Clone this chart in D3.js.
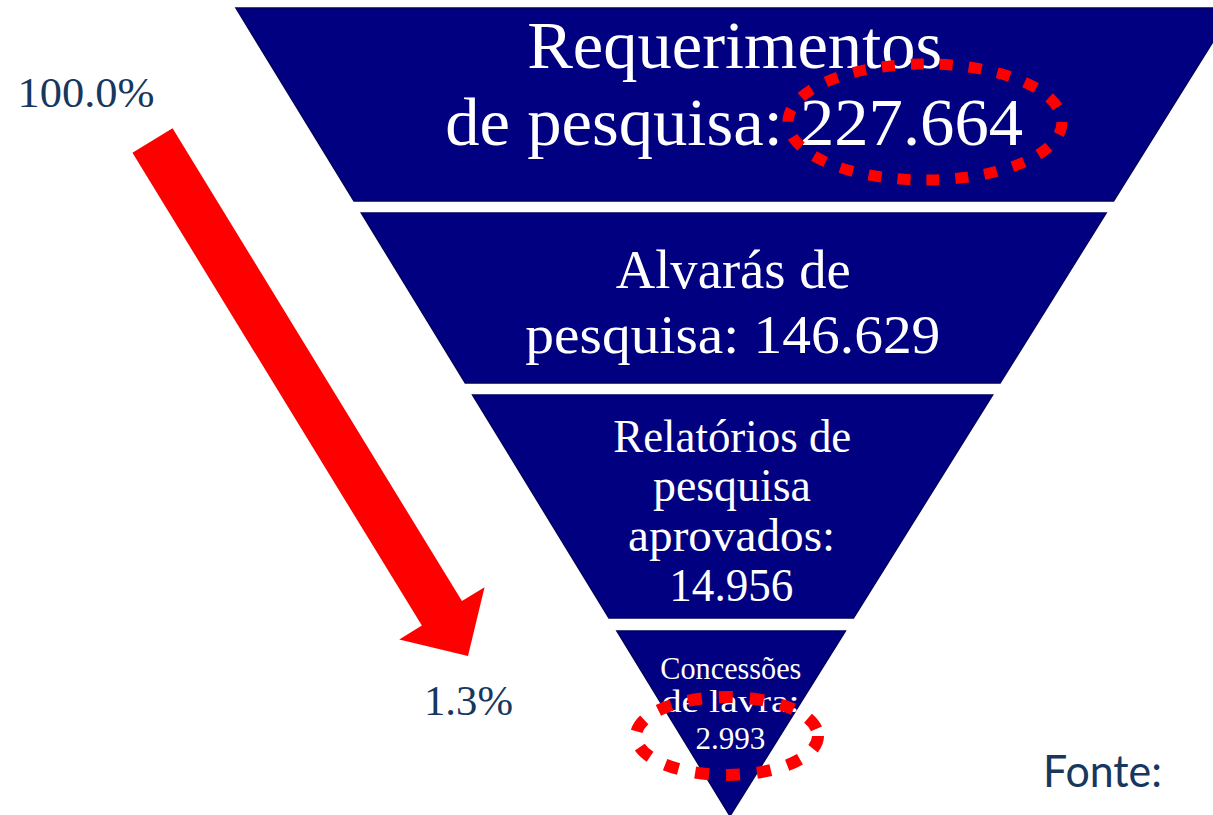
<!DOCTYPE html>
<html>
<head>
<meta charset="utf-8">
<script src="https://cdn.jsdelivr.net/npm/d3@7"></script>
<style>
  html, body { margin: 0; padding: 0; background: #fff; }
  svg { display: block; }
</style>
</head>
<body>
<svg id="chart"></svg>
<script>
// data
const stages = ["Requerimentos\nde pesquisa:", "Alvarás de\npesquisa:", "Relatórios de\npesquisa\naprovados:", "Concessões\nde lavra:"];
const counts = [227664, 146629, 14956, 2993];
const sourceLabel = "Fonte:";

const width = 1213;
const height = 815;

const svg = d3.select("#chart").attr("width", width).attr("height", height);

const fmtCount = d3.formatLocale({ decimal: ",", thousands: ".", grouping: [3], currency: ["", ""] }).format(",d");
const fmtPct = d3.format(".1%");

// funnel shape: one triangle cut in slices
const topY = 8, apexY = 816;
const halfW = d3.scaleLinear().domain([apexY, topY]).range([0, 499]);
const centerX = d3.scaleLinear().domain([topY, apexY]).range([735, 730]);

// slice layout (y range, font, lines)
const layout = [
  { y0: 8,   y1: 201, size: 68, inline: true,  base: [68, 145],           widths: [415, 578] },
  { y0: 213, y1: 383, size: 55, inline: true,  base: [288, 353],          widths: [235, 415] },
  { y0: 395, y1: 618, size: 46, inline: false, base: [452, 501, 551, 601], widths: [238, 158, 207, 124] },
  { y0: 631, y1: apexY, size: 31, inline: false, base: [679, 712, 749],   widths: [141, 138, 70] }
];

const funnel = svg.append("g");

layout.forEach((s, i) => {
  const cx0 = centerX(s.y0), cx1 = centerX(s.y1);
  const pts = [
    [cx0 - halfW(s.y0), s.y0],
    [cx0 + halfW(s.y0), s.y0],
    [cx1 + halfW(s.y1), s.y1],
    [cx1 - halfW(s.y1), s.y1]
  ];
  funnel.append("path")
    .attr("d", d3.line()(pts) + "Z")
    .attr("fill", "#000080")
    .attr("stroke", "#00005e")
    .attr("stroke-width", 1.5);

  let lines = stages[i].split("\n");
  const v = fmtCount(counts[i]);
  if (s.inline) lines[lines.length - 1] += " " + v;
  else lines.push(v);

  lines.forEach((ln, j) => {
    funnel.append("text")
      .attr("x", centerX(s.base[j]))
      .attr("y", s.base[j])
      .attr("text-anchor", "middle")
      .attr("fill", "#fff")
      .attr("font-family", "'Liberation Serif', 'DejaVu Serif', serif")
      .attr("font-size", s.size)
      .attr("textLength", s.widths[j])
      .attr("lengthAdjust", "spacingAndGlyphs")
      .text(ln);
  });
});

// red dotted ellipses round the first and the last count
const rings = [
  { cx: 925, cy: 122, rx: 137, ry: 58, w: 11, dash: "13,16" },
  { cx: 727, cy: 736, rx: 91, ry: 39, w: 12, dash: "14,17" }
];
svg.append("g").selectAll("ellipse")
  .data(rings)
  .join("ellipse")
  .attr("cx", d => d.cx)
  .attr("cy", d => d.cy)
  .attr("rx", d => d.rx)
  .attr("ry", d => d.ry)
  .attr("fill", "none")
  .attr("stroke", "#ff0000")
  .attr("stroke-width", d => d.w)
  .attr("stroke-dasharray", d => d.dash);

// red block arrow
function arrowPath(start, tip, shaftW, headW, headL) {
  const dx = tip[0] - start[0], dy = tip[1] - start[1];
  const len = Math.hypot(dx, dy);
  const ux = dx / len, uy = dy / len;
  const px = -uy, py = ux;
  const bx = tip[0] - ux * headL, by = tip[1] - uy * headL;
  const pts = [
    [start[0] + px * shaftW / 2, start[1] + py * shaftW / 2],
    [bx + px * shaftW / 2, by + py * shaftW / 2],
    [bx + px * headW / 2, by + py * headW / 2],
    tip,
    [bx - px * headW / 2, by - py * headW / 2],
    [bx - px * shaftW / 2, by - py * shaftW / 2],
    [start[0] - px * shaftW / 2, start[1] - py * shaftW / 2]
  ];
  return d3.line()(pts) + "Z";
}
svg.append("path")
  .attr("d", arrowPath([152.5, 140.5], [468, 656], 47, 100, 50))
  .attr("fill", "#ff0000");

// share labels
const share = [counts[0] / counts[0], counts[counts.length - 1] / counts[0]];
const shareText = [
  { x: 86, y: 107, w: 137 },
  { x: 468.5, y: 715, w: 89 }
];
svg.append("g").selectAll("text")
  .data(share)
  .join("text")
  .attr("x", (d, i) => shareText[i].x)
  .attr("y", (d, i) => shareText[i].y)
  .attr("text-anchor", "middle")
  .attr("fill", "#17375e")
  .attr("font-family", "'Liberation Serif', 'DejaVu Serif', serif")
  .attr("font-size", 43)
  .attr("textLength", (d, i) => shareText[i].w)
  .attr("lengthAdjust", "spacingAndGlyphs")
  .text(d => fmtPct(d));

svg.append("text")
  .attr("x", 1043)
  .attr("y", 787)
  .attr("fill", "#17375e")
  .attr("font-family", "Lato, 'Open Sans', sans-serif")
  .attr("font-size", 45)
  .attr("textLength", 119)
  .attr("lengthAdjust", "spacingAndGlyphs")
  .text(sourceLabel);
</script>
</body>
</html>
